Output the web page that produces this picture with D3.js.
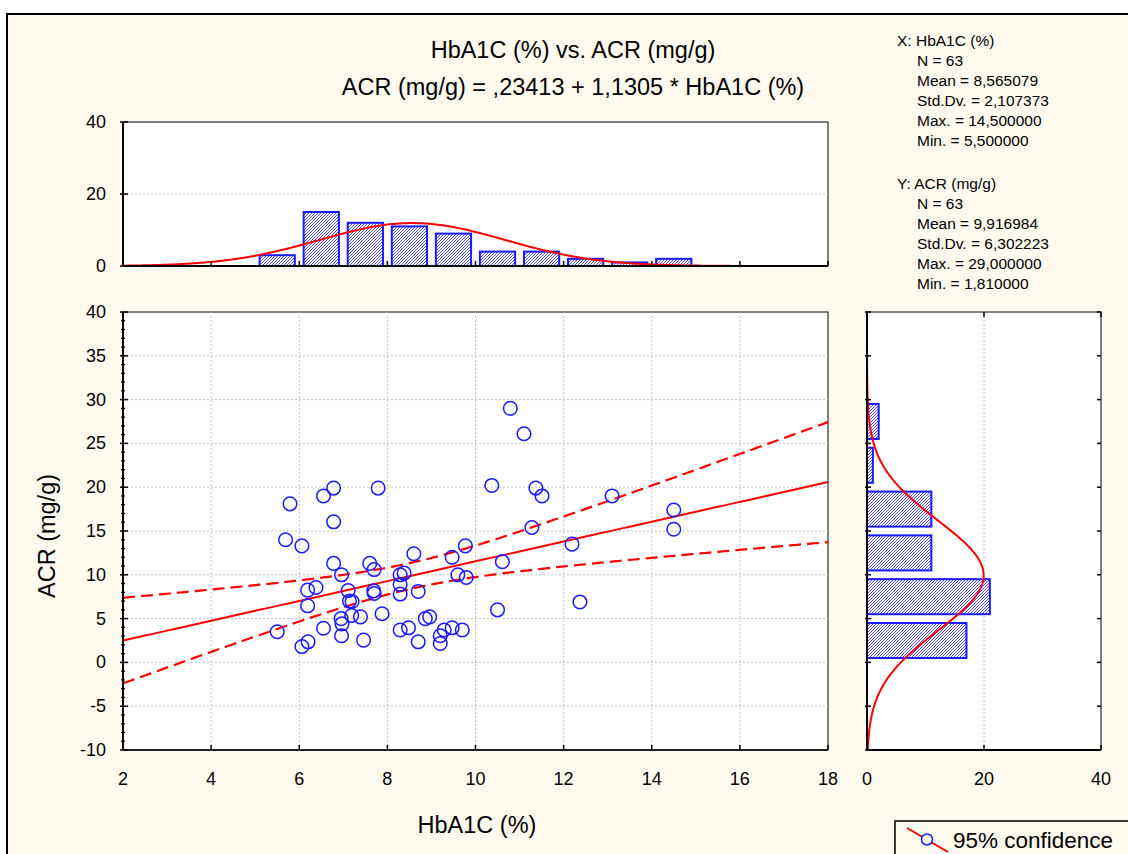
<!DOCTYPE html>
<html><head><meta charset="utf-8">
<script src="https://cdn.jsdelivr.net/npm/d3@7"></script>
<style>body{margin:0;background:#fff} svg{display:block} text{font-family:"Liberation Sans",Arial,sans-serif;fill:#000}</style>
</head><body><svg id="c" width="1128" height="854"></svg>
<script>
// ---- data ----
const hba1c = [5.79,6.55,6.78,7.79,6.78,10.79,11.10,10.37,11.37,11.51,13.10,14.5,14.5,11.28,
  5.69,6.06,6.78,6.96,7.60,7.70,8.60,9.47,9.77,9.60,9.79,8.29,8.38,8.29,8.29,8.70,
  6.19,6.38,6.19,7.11,7.14,7.20,7.69,7.70,6.95,7.19,7.39,7.88,6.97,6.96,6.55,5.5,
  6.06,6.20,7.46,8.29,8.48,8.70,8.86,8.96,9.29,9.47,9.70,9.20,9.20,12.19,10.61,10.50,12.37];
const acr = [18.1,19.0,19.9,19.9,16.05,29.0,26.1,20.2,19.9,19.0,19.0,17.4,15.2,15.4,
  14.0,13.3,11.3,10.0,11.3,10.6,12.4,12.0,13.3,10.0,9.7,10.0,10.2,8.9,7.8,8.1,
  8.25,8.55,6.46,8.2,7.0,6.95,8.17,7.87,5.0,5.35,5.2,5.55,4.4,3.04,3.9,3.5,
  1.81,2.35,2.54,3.7,3.95,2.35,5.0,5.2,3.7,3.95,3.7,3.04,2.16,13.5,11.5,6.0,6.9];
const histXStart = [5,6,7,8,9,10,11,12,13,14];
const histXCounts = [3,15,12,11,9,4,4,2,1,2];
const histYStart = [0,5,10,15,20,25];
const histYCounts = [17,21,11,11,1,2];
const xTicks = [2,4,6,8,10,12,14,16,18];
const yTicks = [-10,-5,0,5,10,15,20,25,30,35,40];
const histTicks = [0,20,40];
const regIntercept = 0.23413, regSlope = 1.1305;
const nObs = 63, meanX = 8.565079, sdX = 2.107373, meanY = 9.916984, sdY = 6.302223;
const xStatsTitle = "X:  HbA1C (%)";
const xStats = ["N = 63","Mean = 8,565079","Std.Dv. = 2,107373","Max. = 14,500000","Min. = 5,500000"];
const yStatsTitle = "Y:  ACR (mg/g)";
const yStats = ["N = 63","Mean = 9,916984","Std.Dv. = 6,302223","Max. = 29,000000","Min. = 1,810000"];
const titleText = "HbA1C (%) vs. ACR (mg/g)";
const subtitleText = "ACR (mg/g) = ,23413 + 1,1305 * HbA1C (%)";
const xTitle = "HbA1C (%)", yTitle = "ACR (mg/g)", legendText = "95% confidence";

// ---- drawing ----
const svg = d3.select("#c");
const BLUE = "#1a1aff", RED = "#ff0000", GRID = "#c4c4c4";
const defs = svg.append("defs");
const pat = defs.append("pattern").attr("id","hatch").attr("patternUnits","userSpaceOnUse")
  .attr("width",3).attr("height",3);
pat.append("rect").attr("width",3).attr("height",3).attr("fill","#ffffff");
pat.append("path").attr("d","M-1,1 L1,-1 M0,3 L3,0 M2,4 L4,2").attr("stroke","#3c3cff").attr("stroke-width",0.9);

svg.append("rect").attr("x",7).attr("y",14).attr("width",1130).attr("height",850)
  .attr("fill","#fffaf0").attr("stroke","#000").attr("stroke-width",2);

const x = d3.scaleLinear([2,18],[123,828]);
const y = d3.scaleLinear([-10,40],[750,312]);
const hy = d3.scaleLinear([0,40],[266,122]);
const hx = d3.scaleLinear([0,40],[867,1101]);

function box(x0,y0,x1,y1){
  svg.append("rect").attr("x",x0).attr("y",y0).attr("width",x1-x0).attr("height",y1-y0)
    .attr("fill","#fff").attr("stroke","#000").attr("stroke-width",1);
}
function tick(x1,y1,x2,y2,w,col){
  return svg.append("line").attr("x1",x1).attr("y1",y1).attr("x2",x2).attr("y2",y2)
    .attr("stroke",col||"#000").attr("stroke-width",w||1.5);
}
function grid(x1,y1,x2,y2){
  svg.append("line").attr("x1",x1).attr("y1",y1).attr("x2",x2).attr("y2",y2)
    .attr("stroke",GRID).attr("stroke-width",1).attr("stroke-dasharray","2,2");
}
function label(t,xx,yy,anchor,size){
  return svg.append("text").attr("x",xx).attr("y",yy).attr("text-anchor",anchor||"middle")
    .attr("font-size",size||18).text(t);
}
const normal = (v,m,s) => Math.exp(-0.5*((v-m)/s)**2)/(s*Math.sqrt(2*Math.PI));

// Top histogram
box(123,122,828,266);
grid(123,hy(20),828,hy(20));
svg.append("g").selectAll("rect").data(histXStart).join("rect")
  .attr("x",d=>x(d+0.1)).attr("width",d=>x(d+0.9)-x(d+0.1))
  .attr("y",(d,i)=>hy(histXCounts[i])).attr("height",(d,i)=>hy(0)-hy(histXCounts[i]))
  .attr("fill","url(#hatch)").attr("stroke",BLUE).attr("stroke-width",2);
const xs = d3.range(2,18.001,0.05);
svg.append("path").datum(xs).attr("fill","none").attr("stroke",RED).attr("stroke-width",2)
  .attr("d",d3.line().x(d=>x(d)).y(d=>hy(nObs*1*normal(d,meanX,sdX))));
tick(123,122,123,266,2); tick(123,266,828,266,2);
histTicks.forEach(t=>{ tick(120,hy(t),128,hy(t)); label(String(t),106,hy(t)+6,"end"); });
xTicks.forEach(t=>{ tick(x(t),266,x(t),261); });

// Scatter
box(123,312,828,750);
xTicks.slice(1,-1).forEach(t=>grid(x(t),312,x(t),750));
yTicks.slice(1,-1).forEach(t=>grid(123,y(t),828,y(t)));
const sxx = (nObs-1)*sdX*sdX;
const s2 = ((nObs-1)*sdY*sdY - regSlope*regSlope*sxx)/(nObs-2);
const tcrit = 1.9996;
const hw = v => tcrit*Math.sqrt(s2*(1/nObs + (v-meanX)**2/sxx));
const fit = v => regIntercept + regSlope*v;
svg.append("path").datum(xs).attr("fill","none").attr("stroke",RED).attr("stroke-width",2)
  .attr("d",d3.line().x(d=>x(d)).y(d=>y(fit(d))));
[1,-1].forEach(sg=>{
  svg.append("path").datum(xs).attr("fill","none").attr("stroke",RED).attr("stroke-width",2.2)
    .attr("stroke-dasharray","12,6")
    .attr("d",d3.line().x(d=>x(d)).y(d=>y(fit(d)+sg*hw(d))));
});
svg.append("g").selectAll("circle").data(hba1c).join("circle")
  .attr("cx",d=>x(d)).attr("cy",(d,i)=>y(acr[i])).attr("r",6.8)
  .attr("fill","none").attr("stroke",BLUE).attr("stroke-width",1.5);
tick(123,312,123,750,2); tick(123,750,828,750,1.5);
yTicks.forEach(t=>{ tick(120,y(t),128,y(t)); label(String(t),106,y(t)+6,"end"); });
d3.range(-9,40,1).filter(v=>v%5!==0).forEach(v=>tick(121,y(v),125,y(v),1.2));
xTicks.forEach(t=>{ tick(x(t),750,x(t),745); label(String(t),x(t),785); });

// Right histogram
box(867,312,1101,750);
grid(hx(20),312,hx(20),750);
svg.append("g").selectAll("rect").data(histYStart).join("rect")
  .attr("x",hx(0)).attr("width",(d,i)=>hx(histYCounts[i])-hx(0))
  .attr("y",d=>y(d+4.5)).attr("height",d=>y(d+0.5)-y(d+4.5))
  .attr("fill","url(#hatch)").attr("stroke",BLUE).attr("stroke-width",2);
const ys = d3.range(-10,40.001,0.1);
svg.append("path").datum(ys).attr("fill","none").attr("stroke",RED).attr("stroke-width",2)
  .attr("d",d3.line().x(d=>hx(nObs*5*normal(d,meanY,sdY))).y(d=>y(d)));
tick(867,312,867,750,2); tick(867,750,1101,750,2);
yTicks.forEach(t=>{ tick(865,y(t),871,y(t)); tick(1097,y(t),1101,y(t)); });
histTicks.forEach(t=>{ tick(hx(t),312,hx(t),317); tick(hx(t),750,hx(t),745); label(String(t),hx(t),785); });

// Titles
label(titleText,573,58,"middle",23.5);
label(subtitleText,573,95,"middle",23.5);
label(xTitle,477,833,"middle",23.5);
svg.append("text").attr("transform","translate(55,536) rotate(-90)").attr("text-anchor","middle")
  .attr("font-size",23.5).text(yTitle);

// Stats
label(xStatsTitle,897,45.5,"start",15.5);
xStats.forEach((s,i)=>label(s,917,65.5+i*20.2,"start",15.5));
label(yStatsTitle,897,188.5,"start",15.5);
yStats.forEach((s,i)=>label(s,917,208.5+i*20.2,"start",15.5));

// Legend
svg.append("rect").attr("x",895).attr("y",821).attr("width",260).attr("height",60)
  .attr("fill","#fffaf0").attr("stroke","#000").attr("stroke-width",1.5);
tick(907,828,948,852,2,RED);
svg.append("circle").attr("cx",927).attr("cy",839.5).attr("r",5.5).attr("fill","#fff")
  .attr("stroke",BLUE).attr("stroke-width",1.5);
label(legendText,953,847.5,"start",22.5);
</script></body></html>
